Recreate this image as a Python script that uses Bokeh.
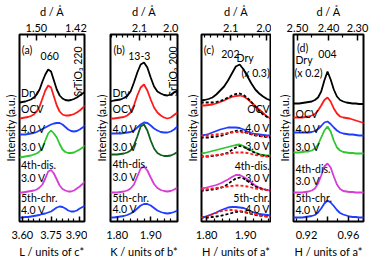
from math import pi
from bokeh.plotting import figure
from bokeh.models import Range1d, LinearAxis, FixedTicker, Label
from bokeh.layouts import row
from bokeh.embed import file_html
from bokeh.resources import INLINE

# ------------------------------------------------------------------ data
# Panel (a): 060 reflection, x = L / units of c*
a_x = [3.585, 3.600, 3.615, 3.630, 3.645, 3.660, 3.675, 3.690, 3.705, 3.720, 3.735, 3.750,
       3.765, 3.780, 3.795, 3.810, 3.825, 3.840, 3.855, 3.870, 3.885, 3.900, 3.915, 3.930]
a_dry = [119, 119.5, 120, 121, 122, 124, 127, 132, 140, 147, 152, 150, 141, 132, 126, 123, 121.5, 121, 121.5, 122.5, 124, 126, 128, 130]
a_ocv = [103, 103.5, 104, 104.5, 105.5, 107, 110, 115, 123, 131, 136, 134, 125, 116, 110, 107, 106, 106, 106.5, 107.5, 109, 111, 113.5, 116]
a_40v = [87, 87, 87, 87.5, 88, 88.5, 89.5, 91, 92.5, 94, 95.5, 97, 98, 98.5, 98.5, 97, 94.5, 92, 90.5, 90, 90.5, 92, 94, 96]
a_30v = [64, 64.5, 65, 65.5, 66, 67, 68, 70, 74, 81, 88, 91, 88, 84, 77.5, 72, 69.5, 68.5, 68.5, 69, 70.5, 72, 74, 76]
a_4dis = [29, 29, 29.5, 30, 30.5, 31, 32, 34, 37, 43, 50, 51.5, 48, 42, 36, 32.5, 31, 30, 30, 31, 33, 35, 37.5, 40]
a_5chr = [4, 4, 4.5, 4.5, 5, 5.5, 6, 6.5, 7.5, 8, 9, 10, 12, 14, 15, 14.5, 13, 11, 10, 10, 11, 13, 14.5, 16]

# Panel (b): 13-3 reflection, x = K / units of b*
b_x = [1.78, 1.79, 1.80, 1.81, 1.82, 1.83, 1.84, 1.85, 1.86, 1.87, 1.88, 1.89, 1.90, 1.91,
       1.92, 1.93, 1.94, 1.95, 1.96, 1.97, 1.98]
b_dry = [120, 121, 121.5, 122, 123.5, 125.5, 130, 139, 149, 157, 159, 154, 144, 135, 130, 128, 126.5, 126, 127, 129, 131]
b_ocv = [103, 103, 103.5, 104, 104.5, 106, 109, 116, 126, 134, 137, 131, 122, 114, 109, 106, 104, 103, 104, 106.5, 109]
b_40v = [88, 88, 88, 88, 88.5, 89, 89.5, 91, 94, 97, 99, 98.5, 96, 93, 91, 89.5, 89, 89, 90, 92, 95]
b_30v = [67, 67, 67, 67.5, 68, 69, 71, 76, 85, 95, 97, 91, 81, 73, 68.5, 66.5, 65.5, 65.5, 66, 67.5, 69.5]
b_4dis = [29, 29, 29, 29.5, 30, 31, 33, 37, 45, 53, 55, 51, 44, 37.5, 33.5, 31.5, 30.5, 30, 30.5, 32, 34]
b_5chr = [4, 4, 4.5, 5, 5.5, 6.5, 8, 10, 13, 16, 17.5, 17.5, 16, 13.5, 11, 9.5, 8.5, 8, 8.5, 9.5, 11]

# Panel (c): 202 reflection, x = H / units of a*  (dashed: Dry and OCV references)
c_x = [1.785, 1.795, 1.805, 1.815, 1.825, 1.835, 1.845, 1.855, 1.865, 1.875, 1.885, 1.895,
       1.905, 1.915, 1.925, 1.935, 1.945, 1.955, 1.965]
c_dry = [121, 121.5, 122.5, 124, 127, 131, 135, 141, 148, 155, 157, 152, 145, 138, 132, 128, 125, 122.5, 121]
c_ocv = [116, 116, 116.5, 117, 118, 119.5, 121, 123, 124.5, 125.5, 126, 125, 122.5, 119, 115.5, 112, 108.5, 105, 103]
c_ocv_ref_dry = [119, 119, 119, 119, 119.5, 120.5, 122, 124, 126, 127.5, 128, 126.5, 123.5, 119.5, 115, 110.5, 107, 104.5, 103]
c_40v = [86, 86.5, 87.5, 89, 90.5, 92, 93, 94, 94, 94, 93.5, 92, 90, 88.5, 87.5, 87, 86.5, 86, 86]
c_40v_ref_dry = [84, 84, 84, 84.5, 85, 85.5, 86.5, 88, 89.5, 90.5, 91, 90, 88.5, 87, 86, 85.5, 85, 84.5, 84]
c_40v_ref_ocv = [86, 86, 86, 86.5, 87, 87.5, 88, 88.5, 89, 89.5, 89.5, 89, 88.5, 87.5, 86.5, 86, 85.5, 85, 85]
c_30v = [68, 68.5, 69.5, 70.5, 71.5, 72.5, 73.5, 74.5, 75.5, 76.5, 77, 75.5, 73.5, 71, 69, 67.5, 66.5, 66, 66]
c_30v_ref_dry = [65, 65, 65, 65.5, 66, 66.5, 67.5, 69, 71.5, 74, 75.5, 74.5, 72.5, 70.5, 68.5, 67, 66, 65.5, 65]
c_30v_ref_ocv = [65, 65, 65.5, 66, 66.5, 67, 67.5, 68, 68.5, 69, 69, 69, 68.5, 67.5, 66.5, 66, 65.5, 65, 65]
c_4dis = [33, 33.5, 34.5, 35.5, 36.5, 38, 40, 42, 44.5, 46.5, 46.5, 44.5, 42, 39, 36, 34, 32.5, 31.5, 31]
c_4dis_ref_dry = [31, 31, 31.5, 32, 32.5, 33.5, 35, 37.5, 40.5, 43, 44, 43, 40.5, 37.5, 35, 33.5, 32.5, 31.5, 31]
c_4dis_ref_ocv = [32, 32, 32.5, 33, 33.5, 34, 34.5, 35, 35.5, 36, 36, 35.5, 35, 34, 33, 32.5, 32, 31.5, 31]
c_5chr = [4, 4.5, 6, 7.5, 9, 11, 12.5, 14, 14.5, 14.5, 14, 13.5, 12, 10, 8.5, 7.5, 7, 6.5, 6]
c_5chr_ref_dry = [4, 4, 4, 4.5, 5, 5.5, 6.5, 7.5, 8.5, 9.5, 10, 9.5, 8.5, 7.5, 6.5, 6, 5.5, 5, 5]
c_5chr_ref_ocv = [4, 4.5, 5.5, 7, 8.5, 10, 11, 11.5, 11.5, 11, 10.5, 10, 9, 8, 7, 6, 5.5, 5, 5]

# Panel (d): 004 reflection, x = H / units of a*
d_x = [0.907, 0.910, 0.913, 0.916, 0.919, 0.922, 0.925, 0.928, 0.931, 0.934, 0.937, 0.940,
       0.943, 0.946, 0.949, 0.952, 0.955, 0.958, 0.961, 0.964, 0.967, 0.970, 0.973, 0.976]
d_dry = [118, 118, 118, 118.5, 119, 119.5, 120, 121.5, 124, 130, 141, 150, 142, 132, 125, 121.5, 120, 119, 118.5, 118, 118, 117.5, 117.5, 117.5]
d_ocv = [104, 104, 104, 104, 104.5, 105, 106, 107.5, 111, 116, 121.5, 124, 120, 113, 108, 105, 104, 103.5, 103, 102, 101, 100, 99, 98.5]
d_40v = [89, 89, 89, 89, 89, 89, 89.5, 90.5, 92.5, 95.5, 99, 100, 97.5, 94, 91, 89, 88, 87.5, 87, 87, 86.5, 86, 86, 86]
d_30v = [69, 69, 69, 69.5, 70, 70, 71, 73, 77, 84, 91, 95, 90, 81, 74, 71, 69.5, 69, 68.5, 68.5, 68, 68, 68, 68]
d_4dis = [29, 29, 29, 29, 29.5, 30, 31, 33, 38, 46, 55, 58, 54, 45, 37, 32.5, 30.5, 30, 29.5, 29.5, 29, 29, 29, 29]
d_5chr = [4, 4, 4, 4, 4.5, 5, 5.5, 6.5, 9, 13, 18, 21, 19, 15.5, 11.5, 8.5, 7, 6, 5, 4.5, 4.5, 4, 4, 4]

# Bottom-axis ticks
a_bt_major = [3.60, 3.75, 3.90]
a_bt_labels = ["3.60", "3.75", "3.90"]
a_bt_minor = [3.63, 3.66, 3.69, 3.72, 3.78, 3.81, 3.84, 3.87]
b_bt_major = [1.80, 1.90]
b_bt_labels = ["1.80", "1.90"]
b_bt_minor = [1.78, 1.82, 1.84, 1.86, 1.88, 1.92, 1.94, 1.96, 1.98]
c_bt_major = [1.80, 1.90]
c_bt_labels = ["1.80", "1.90"]
c_bt_minor = [1.82, 1.84, 1.86, 1.88, 1.92, 1.94, 1.96]
d_bt_major = [0.92, 0.94, 0.96]
d_bt_labels = ["0.92", "", "0.96"]
d_bt_minor = [0.91, 0.93, 0.95, 0.97]

# Top-axis (d-spacing) ticks
a_d_major = [1.50, 1.42]
a_d_labels = ["1.50", "1.42"]
a_d_minor = [1.52, 1.48, 1.46, 1.44]
a_cell = 5.51          # d = a_cell / L
b_d_major = [2.1, 2.0]
b_d_labels = ["2.1", "2.0"]
b_d_minor = [2.20, 2.18, 2.16, 2.14, 2.12, 2.08, 2.06, 2.04, 2.02, 1.98]
b_cell = 3.92          # d = b_cell / K
c_d_major = [2.1, 2.0]
c_d_labels = ["2.1", "2.0"]
c_d_minor = [2.18, 2.16, 2.14, 2.12, 2.08, 2.06, 2.04, 2.02]
c_cell = 3.91          # d = c_cell / H
d_top_major_pos = [0.9114, 0.9410, 0.9686]
d_top_labels = ["2.50", "2.40", "2.30"]
d_top_minor_pos = [0.9250, 0.9545]

# ------------------------------------------------------------------ style
FONT = "Lato"
FS = "11px"
TFS = "10.5px"
BLACK, RED, BLUE = "#000000", "#ff1a1a", "#1f3cff"
GREEN, DGREEN, MAGENTA = "#2fc62f", "#0e5e1c", "#d63cd6"
LW = 1.8
H = 261
TOP, BOT = 34, 40


def make_panel(width, left, right, xr, bt, tt, xtitle):
    p = figure(width=width, height=H, x_range=Range1d(*xr), y_range=Range1d(0, 187),
               x_axis_location=None, y_axis_location=None,
               output_backend="svg", toolbar_location=None,
               min_border_left=left, min_border_right=right,
               min_border_top=TOP, min_border_bottom=BOT)
    p.xgrid.grid_line_color = None
    p.ygrid.grid_line_color = None
    p.outline_line_color = "black"
    p.outline_line_width = 2
    p.outline_line_alpha = 1.0
    p.background_fill_color = "white"
    p.border_fill_color = "white"
    for loc, (major, labels, minor), standoff, mlen, title, tstand in [
            ("below", bt, 9, 5, xtitle, 3), ("above", tt, 3, 6, "d / Å", 3)]:
        ax = LinearAxis(ticker=FixedTicker(ticks=major, minor_ticks=minor),
                        major_label_overrides={t: l for t, l in zip(major, labels)},
                        axis_line_color=None,
                        major_tick_in=mlen, major_tick_out=0,
                        minor_tick_in=3, minor_tick_out=0,
                        major_tick_line_width=1.5, minor_tick_line_width=1.2,
                        major_tick_line_color="black", minor_tick_line_color="black",
                        major_label_standoff=standoff,
                        major_label_text_font=FONT, major_label_text_font_size=FS,
                        major_label_text_color="black",
                        axis_label=title, axis_label_standoff=tstand,
                        axis_label_text_font=FONT, axis_label_text_font_size=FS,
                        axis_label_text_font_style="normal", axis_label_text_color="black")
        p.add_layout(ax, loc)
    yax = LinearAxis(ticker=FixedTicker(ticks=[]), axis_line_color=None,
                     major_tick_in=0, major_tick_out=0, minor_tick_in=0, minor_tick_out=0,
                     major_label_text_font_size="0px", major_label_standoff=0,
                     axis_label="Intensity (a.u.)", axis_label_standoff=3,
                     axis_label_text_font=FONT, axis_label_text_font_size=FS,
                     axis_label_text_font_style="normal", axis_label_text_color="black")
    p.add_layout(yax, "left")
    return p


def add_texts(p, items):
    for txt, x, y, align in items:
        p.add_layout(Label(x=x, y=y, text=txt, text_align=align, text_baseline="middle",
                           text_font=FONT, text_font_size=TFS, text_color="black"))


def add_rot(p, txt, x, y):
    p.add_layout(Label(x=x, y=y, text=txt, angle=pi / 2, text_align="center",
                       text_baseline="middle", text_font=FONT, text_font_size=TFS,
                       text_color="black"))


def draw(p, x, series):
    for ys, col, dash in series:
        p.line(x, ys, line_color=col, line_width=LW, line_dash=dash)


# ---------------- panel (a)
pa = make_panel(87, 17, 3, (3.585, 3.925),
                (a_bt_major, a_bt_labels, a_bt_minor),
                ([a_cell / d for d in a_d_major], a_d_labels, [a_cell / d for d in a_d_minor]),
                "L / units of c*")
draw(pa, a_x, [(a_dry, BLACK, "solid"), (a_ocv, RED, "solid"), (a_40v, BLUE, "solid"),
               (a_30v, GREEN, "solid"), (a_4dis, MAGENTA, "solid"), (a_5chr, BLUE, "solid")])
add_texts(pa, [("(a)", 3.597, 172, "left"), ("060", 3.743, 166, "center"),
               ("Dry", 3.593, 129, "left"), ("OCV", 3.593, 113, "left"),
               ("4.0 V", 3.593, 93, "left"), ("3.0 V", 3.593, 75, "left"),
               ("4th-dis.", 3.593, 57, "left"), ("3.0 V", 3.593, 44, "left"),
               ("5th-chr.", 3.593, 24, "left"), ("4.0 V", 3.593, 12, "left")])
add_rot(pa, "SrTiO₃ 220", 3.890, 150)

# ---------------- panel (b)
pb = make_panel(92, 23, 2, (1.78, 1.98),
                (b_bt_major, b_bt_labels, b_bt_minor),
                ([b_cell / d for d in b_d_major], b_d_labels, [b_cell / d for d in b_d_minor]),
                "K / units of b*")
draw(pb, b_x, [(b_dry, BLACK, "solid"), (b_ocv, RED, "solid"), (b_40v, BLUE, "solid"),
               (b_30v, DGREEN, "solid"), (b_4dis, MAGENTA, "solid"), (b_5chr, BLUE, "solid")])
add_texts(pb, [("(b)", 1.789, 172, "left"), ("13-3", 1.866, 166, "center"),
               ("Dry", 1.786, 129, "left"), ("OCV", 1.786, 113, "left"),
               ("4.0 V", 1.786, 93, "left"), ("3.0 V", 1.786, 75, "left"),
               ("4th-dis.", 1.786, 58, "left"), ("3.0 V", 1.786, 45, "left"),
               ("5th-chr.", 1.786, 24, "left"), ("4.0 V", 1.786, 13, "left")])
add_rot(pb, "SrTiO₃ 200", 1.968, 150)

# ---------------- panel (c)
pc = make_panel(92, 22, 1, (1.787, 1.964),
                (c_bt_major, c_bt_labels, c_bt_minor),
                ([c_cell / d for d in c_d_major], c_d_labels, [c_cell / d for d in c_d_minor]),
                "H / units of a*")
draw(pc, c_x, [(c_dry, BLACK, "solid"), (c_ocv, RED, "solid"), (c_40v, BLUE, "solid"),
               (c_30v, GREEN, "solid"), (c_4dis, MAGENTA, "solid"), (c_5chr, BLUE, "solid"),
               (c_ocv_ref_dry, BLACK, "3 2"),
               (c_40v_ref_dry, BLACK, "3 2"), (c_40v_ref_ocv, RED, "3 2"),
               (c_30v_ref_dry, BLACK, "3 2"), (c_30v_ref_ocv, RED, "3 2"),
               (c_4dis_ref_dry, BLACK, "3 2"), (c_4dis_ref_ocv, RED, "3 2"),
               (c_5chr_ref_dry, BLACK, "3 2"), (c_5chr_ref_ocv, RED, "3 2")])
add_texts(pc, [("(c)", 1.793, 172, "left"), ("202", 1.861, 168, "center"),
               ("Dry", 1.899, 164, "center"), ("(x 0.3)", 1.962, 149, "right"),
               ("OCV", 1.962, 113, "right"), ("4.0 V", 1.962, 94, "right"),
               ("3.0 V", 1.962, 76, "right"), ("4th-dis.", 1.962, 56, "right"),
               ("3.0 V", 1.962, 44, "right"), ("5th-chr.", 1.962, 24, "right"),
               ("4.0 V", 1.962, 13, "right")])

# ---------------- panel (d)
pd_ = make_panel(102, 22, 10, (0.9076, 0.9743),
                 (d_bt_major, d_bt_labels, d_bt_minor),
                 (d_top_major_pos, d_top_labels, d_top_minor_pos),
                 "H / units of a*")
draw(pd_, d_x, [(d_dry, BLACK, "solid"), (d_ocv, RED, "solid"), (d_40v, BLUE, "solid"),
                (d_30v, GREEN, "solid"), (d_4dis, MAGENTA, "solid"), (d_5chr, BLUE, "solid")])
add_texts(pd_, [("(d)", 0.911, 174, "left"), ("004", 0.940, 168, "center"),
                ("Dry", 0.9095, 162, "left"), ("(x 0.2)", 0.9085, 149, "left"),
                ("OCV", 0.9095, 108, "left"), ("4.0 V", 0.9095, 93, "left"),
                ("3.0 V", 0.9095, 75, "left"), ("4th-dis.", 0.9095, 53, "left"),
                ("3.0 V", 0.9095, 41, "left"), ("5th-chr.", 0.9095, 24, "left"),
                ("4.0 V", 0.9095, 12, "left")])

layout = row(pa, pb, pc, pd_)
open("out.html", "w").write(file_html(layout, INLINE))
